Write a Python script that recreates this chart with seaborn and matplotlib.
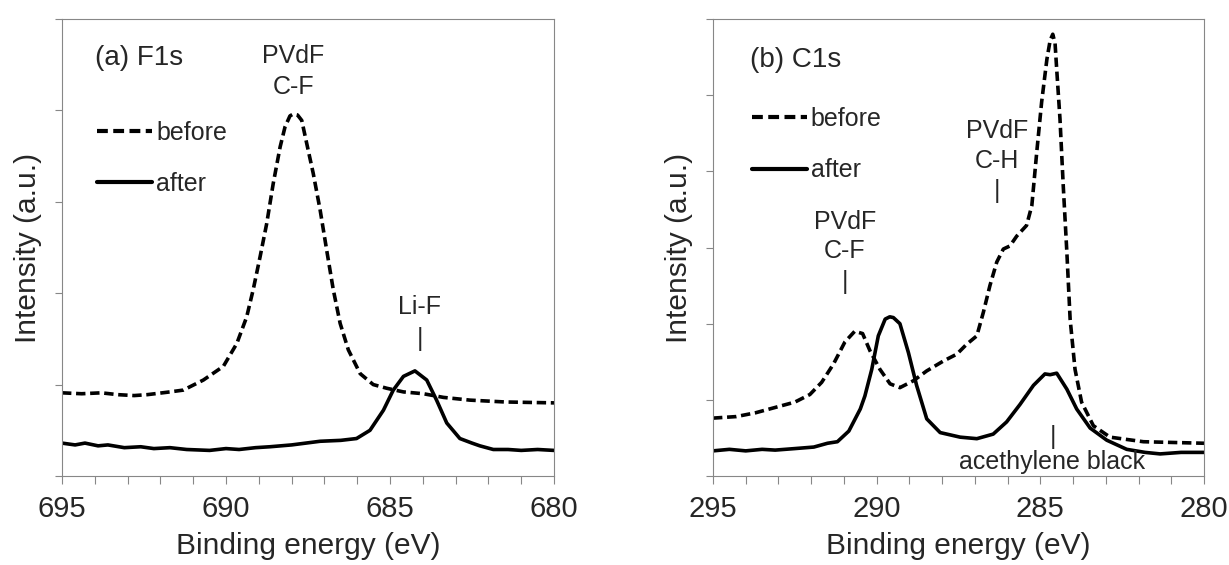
import numpy as np
import pandas as pd
import matplotlib
matplotlib.use("Agg")
import matplotlib.pyplot as plt
from matplotlib.ticker import MultipleLocator, NullFormatter
import seaborn as sns

# ---------------- data ----------------
# (a) F1s
f1s_before_x = [695.0, 694.4, 693.8, 693.3, 692.8, 692.4, 691.71, 691.3, 690.69, 690.08,
                689.67, 689.37, 689.17, 688.96, 688.76, 688.56, 688.35, 688.2, 688.05, 687.95,
                687.82, 687.69, 687.54, 687.34, 687.13, 686.93, 686.73, 686.52, 686.27, 685.91,
                685.51, 685.1, 684.59, 683.98, 683.37, 682.56, 681.5, 680.0]
f1s_before_y = [0.91, 0.90, 0.91, 0.89, 0.88, 0.89, 0.92, 0.94, 1.05, 1.20,
                1.45, 1.74, 2.04, 2.40, 2.76, 3.20, 3.60, 3.82, 3.94, 3.96,
                3.95, 3.89, 3.64, 3.31, 2.91, 2.47, 2.04, 1.67, 1.38, 1.12,
                1.00, 0.96, 0.92, 0.90, 0.86, 0.83, 0.81, 0.80]

f1s_after_x = [695.0, 694.6, 694.3, 693.9, 693.6, 693.1, 692.6, 692.2, 691.71, 691.2,
               690.5, 690.0, 689.6, 689.1, 688.66, 688.0, 687.13, 686.5, 686.02, 685.61,
               685.2, 684.9, 684.59, 684.24, 683.88, 683.58, 683.27, 682.87, 682.5, 682.26,
               681.85, 681.4, 681.0, 680.5, 680.0]
f1s_after_y = [0.36, 0.34, 0.36, 0.33, 0.34, 0.31, 0.32, 0.30, 0.31, 0.29,
               0.28, 0.30, 0.29, 0.31, 0.32, 0.34, 0.38, 0.39, 0.41, 0.50,
               0.72, 0.94, 1.09, 1.15, 1.05, 0.83, 0.58, 0.41, 0.36, 0.33,
               0.29, 0.29, 0.28, 0.29, 0.28]

# (b) C1s
c1s_before_x = [295.0, 294.29, 293.7, 293.1, 292.5, 292.04, 291.68, 291.32, 290.97, 290.67,
                290.43, 290.2, 289.9, 289.59, 289.29, 288.88, 288.47, 287.96, 287.55, 287.25,
                286.94, 286.74, 286.54, 286.33, 286.13, 285.93, 285.72, 285.42, 285.26, 285.11,
                284.96, 284.8, 284.7, 284.62, 284.55, 284.5, 284.4, 284.3, 284.19, 284.09,
                283.94, 283.74, 283.38, 282.87, 281.85, 280.0]
c1s_before_y = [0.76, 0.78, 0.83, 0.90, 0.97, 1.07, 1.23, 1.47, 1.76, 1.90,
                1.87, 1.64, 1.40, 1.21, 1.16, 1.25, 1.38, 1.51, 1.60, 1.73,
                1.84, 2.15, 2.50, 2.81, 2.98, 3.02, 3.15, 3.29, 3.55, 4.25,
                4.91, 5.47, 5.72, 5.80, 5.68, 5.34, 4.69, 3.81, 2.94, 2.06,
                1.40, 0.97, 0.66, 0.51, 0.45, 0.43]

c1s_after_x = [295.0, 294.5, 294.0, 293.5, 293.1, 292.5, 291.92, 291.5, 291.2, 290.85,
               290.5, 290.36, 290.15, 289.95, 289.74, 289.6, 289.49, 289.29, 289.03, 288.78,
               288.47, 288.06, 287.45, 286.94, 286.44, 286.03, 285.62, 285.21, 284.86, 284.7,
               284.5, 284.19, 283.89, 283.48, 282.97, 282.36, 281.8, 281.34, 280.7, 280.0]
c1s_after_y = [0.33, 0.35, 0.33, 0.35, 0.34, 0.36, 0.38, 0.43, 0.45, 0.59,
               0.88, 1.05, 1.40, 1.84, 2.06, 2.09, 2.08, 2.00, 1.62, 1.19,
               0.75, 0.57, 0.51, 0.49, 0.55, 0.71, 0.94, 1.19, 1.34, 1.33,
               1.35, 1.14, 0.88, 0.63, 0.47, 0.35, 0.31, 0.29, 0.31, 0.31]

series_labels = ["before", "after"]
xtick_a = [695, 690, 685, 680]
xtick_b = [295, 290, 285, 280]

# ---------------- styling ----------------
sns.set_theme(style="white")
plt.rcParams["font.family"] = ["Liberation Sans", "DejaVu Sans"]

GRAY = "#878787"
LW = 2.6
DASH = (0, (2.6, 1.3))

fig = plt.figure(figsize=(12.29, 5.65), dpi=100)
ax_a = fig.add_axes([62 / 1229, 1 - 476 / 565, 492 / 1229, 457 / 565])
ax_b = fig.add_axes([713 / 1229, 1 - 476 / 565, 491 / 1229, 457 / 565])


def draw(ax, bx, by, axx, ayy, xticks, ymax):
    dfb = pd.DataFrame({"x": bx, "y": by})
    dfa = pd.DataFrame({"x": axx, "y": ayy})
    sns.lineplot(data=dfb, x="x", y="y", ax=ax, color="black", lw=LW,
                 linestyle=DASH, label=series_labels[0], sort=False)
    sns.lineplot(data=dfa, x="x", y="y", ax=ax, color="black", lw=LW,
                 label=series_labels[1], sort=False)
    ax.set_xlim(xticks[0], xticks[-1])
    ax.set_ylim(0, ymax)
    ax.set_xticks(xticks)
    ax.xaxis.set_minor_locator(MultipleLocator(1))
    ax.set_yticks(range(0, ymax + 1))
    ax.yaxis.set_major_formatter(NullFormatter())
    ax.tick_params(axis="x", which="both", direction="out", length=5.8, width=0.8,
                   color=GRAY, labelsize=21, pad=8, bottom=True)
    ax.tick_params(axis="y", which="both", direction="out", length=5.0, width=0.8,
                   color=GRAY, left=True)
    for s in ax.spines.values():
        s.set_visible(True)
        s.set_color(GRAY)
        s.set_linewidth(0.8)
    ax.set_xlabel("Binding energy (eV)", fontsize=21.5, labelpad=6)
    ax.set_ylabel("Intensity (a.u.)", fontsize=21.5, labelpad=6)
    ax.set_facecolor("white")


draw(ax_a, f1s_before_x, f1s_before_y, f1s_after_x, f1s_after_y, xtick_a, 5)
draw(ax_b, c1s_before_x, c1s_before_y, c1s_after_x, c1s_after_y, xtick_b, 6)

FS = 18
FT = 20
# legends
for ax, anchor in [(ax_a, (0.072, 0.695)), (ax_b, (0.079, 0.725))]:
    h, l = ax.get_legend_handles_labels()
    leg = ax.legend(h, l, loc="center left", bbox_to_anchor=anchor, frameon=False,
                    fontsize=FS, handlelength=2.2, handletextpad=0.15,
                    labelspacing=1.1, borderpad=0, borderaxespad=0)
    for ln in leg.get_lines():
        ln.set_linewidth(3.0)

# annotations panel (a)
ax_a.text(694.0, 4.57, "(a) F1s", fontsize=FT, ha="left", va="center")
ax_a.text(687.95, 4.59, "PVdF", fontsize=FS, ha="center", va="center")
ax_a.text(687.95, 4.26, "C-F", fontsize=FS, ha="center", va="center")
ax_a.text(684.09, 1.85, "Li-F", fontsize=FS, ha="center", va="center")
ax_a.text(684.09, 1.50, "|", fontsize=FS, ha="center", va="center")

# annotations panel (b)
ax_b.text(293.87, 5.46, "(b) C1s", fontsize=FT, ha="left", va="center")
ax_b.text(286.33, 4.53, "PVdF", fontsize=FS, ha="center", va="center")
ax_b.text(286.33, 4.14, "C-H", fontsize=FS, ha="center", va="center")
ax_b.text(286.33, 3.74, "|", fontsize=FS, ha="center", va="center")
ax_b.text(290.97, 3.34, "PVdF", fontsize=FS, ha="center", va="center")
ax_b.text(290.97, 2.96, "C-F", fontsize=FS, ha="center", va="center")
ax_b.text(290.97, 2.55, "|", fontsize=FS, ha="center", va="center")
ax_b.text(284.62, 0.51, "|", fontsize=FS, ha="center", va="center")
ax_b.text(284.65, 0.19, "acethylene black", fontsize=FS, ha="center", va="center")

fig.savefig("out.png", dpi=100, facecolor="white")
